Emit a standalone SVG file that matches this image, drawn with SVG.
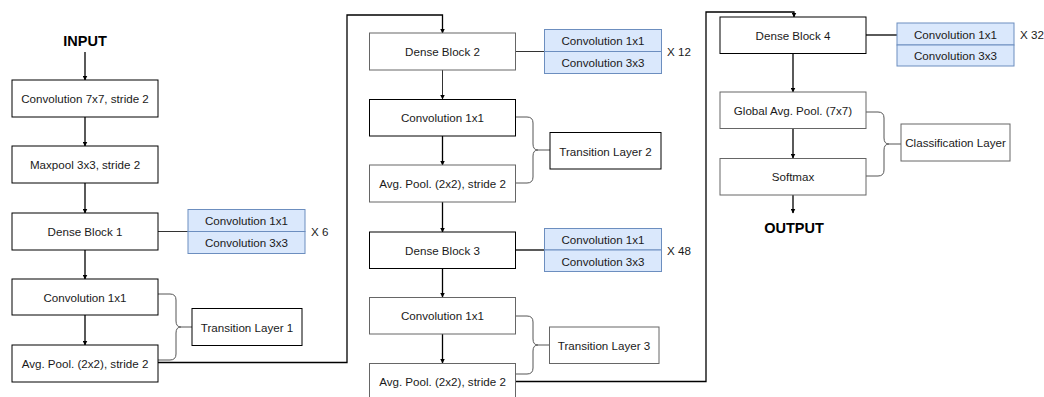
<svg xmlns="http://www.w3.org/2000/svg" width="1044" height="397" viewBox="0 0 1044 397">
<style>
  .box { fill: #ffffff; stroke: #000000; stroke-width: 1; }
  .gbox { fill: #ffffff; stroke: #666666; stroke-width: 1; }
  .blue { fill: #dae8fc; stroke: #6c8ebf; stroke-width: 1; }
  .t { font-family: "Liberation Sans", Arial, sans-serif; font-size: 11.6px; fill: #1a1a1a; text-anchor: middle; dominant-baseline: central; }
  .tl { font-family: "Liberation Sans", Arial, sans-serif; font-size: 11.6px; fill: #1a1a1a; dominant-baseline: central; }
  .big { font-family: "Liberation Sans", Arial, sans-serif; font-size: 14.5px; font-weight: bold; fill: #000; text-anchor: middle; }
  .c { fill: none; stroke: #000000; stroke-width: 1.3; }
  .cl { fill: none; stroke: #333333; stroke-width: 1; }
  .br { fill: none; stroke: #555555; stroke-width: 1; }
</style>
<defs>
  <marker id="arr" viewBox="0 0 10 10" refX="9" refY="5" markerWidth="5" markerHeight="5" orient="auto" markerUnits="userSpaceOnUse">
    <path d="M0,0 L10,5 L0,10 Z" fill="#000"/>
  </marker>
</defs>

<g id="connectors">
  <path class="c" d="M85,52 V80" marker-end="url(#arr)"/>
  <path class="c" d="M85,117 V146" marker-end="url(#arr)"/>
  <path class="c" d="M85,183 V213" marker-end="url(#arr)"/>
  <path class="c" d="M85,250 V279" marker-end="url(#arr)"/>
  <path class="c" d="M85,315 V345" marker-end="url(#arr)"/>
  <path class="cl" d="M158,231.5 H188"/>
  <path class="c" d="M158,362.5 H347 V15 H442.5 V33" marker-end="url(#arr)"/>
  <path class="cl" d="M442.5,70 V99" marker-end="url(#arr)"/>
  <path class="c" d="M442.5,136 V165" marker-end="url(#arr)"/>
  <path class="c" d="M442.5,202 V232" marker-end="url(#arr)"/>
  <path class="c" d="M442.5,268 V297" marker-end="url(#arr)"/>
  <path class="c" d="M442.5,334 V363" marker-end="url(#arr)"/>
  <path class="cl" d="M515,51.5 H544"/>
  <path class="c" d="M515,250 H544"/>
  <path class="c" d="M515,381.5 H706 V12 H794 V17" marker-end="url(#arr)"/>
  <path class="c" d="M866,35 H897"/>
  <path class="c" d="M793,53 V92" marker-end="url(#arr)"/>
  <path class="c" d="M793,128 V158" marker-end="url(#arr)"/>
  <path class="c" d="M793,195 V213" marker-end="url(#arr)"/>
  <path class="br" d="M158,294 H170 Q176,294 176,300 V321 Q176,327 181,327 Q176,327 176,333 V354 Q176,360 170,360 H158 M181,327 H192"/>
  <path class="br" d="M515,117 H527 Q533,117 533,123 V144 Q533,150 538,150 Q533,150 533,156 V177 Q533,183 527,183 H515 M538,150 H550"/>
  <path class="br" d="M515,316 H527 Q533,316 533,322 V339 Q533,345 538,345 Q533,345 533,351 V368 Q533,374 527,374 H515 M538,345 H549"/>
  <path class="br" d="M866,112 H878 Q884,112 884,118 V138 Q884,144 889,144 Q884,144 884,150 V170 Q884,176 878,176 H866 M889,144 H901"/>
</g>

<text class="big" x="85" y="46">INPUT</text>
<text class="big" x="794" y="233">OUTPUT</text>

<g id="conv7">
  <rect class="box" x="12" y="80" width="146" height="37"/>
  <text class="t" x="85" y="98.5">Convolution 7x7, stride 2</text>
</g>
<g id="maxpool">
  <rect class="box" x="12" y="146" width="146" height="37"/>
  <text class="t" x="85" y="164.5">Maxpool 3x3, stride 2</text>
</g>
<g id="dense1">
  <rect class="box" x="12" y="213" width="146" height="37"/>
  <text class="t" x="85" y="231.5">Dense Block 1</text>
</g>
<g id="dense1-detail">
  <rect class="blue" x="188" y="209.5" width="117" height="22"/>
  <rect class="blue" x="188" y="231.5" width="117" height="22"/>
  <text class="t" x="246.5" y="220.5">Convolution 1x1</text>
  <text class="t" x="246.5" y="242.5">Convolution 3x3</text>
  <text class="tl" x="311" y="231.5">X 6</text>
</g>
<g id="conv1a">
  <rect class="box" x="12" y="279" width="146" height="36"/>
  <text class="t" x="85" y="297">Convolution 1x1</text>
</g>
<g id="pool1">
  <rect class="box" x="12" y="345" width="146" height="37"/>
  <text class="t" x="85" y="363.5">Avg. Pool. (2x2), stride 2</text>
</g>
<g id="trans1">
  <rect class="box" x="192" y="308.5" width="110" height="37"/>
  <text class="t" x="247" y="327">Transition Layer 1</text>
</g>

<g id="dense2">
  <rect class="gbox" x="369.5" y="33" width="146" height="37"/>
  <text class="t" x="442.5" y="51.5">Dense Block 2</text>
</g>
<g id="dense2-detail">
  <rect class="blue" x="544.5" y="29.5" width="117" height="22"/>
  <rect class="blue" x="544.5" y="51.5" width="117" height="22"/>
  <text class="t" x="603" y="40.5">Convolution 1x1</text>
  <text class="t" x="603" y="62.5">Convolution 3x3</text>
  <text class="tl" x="667" y="51.5">X 12</text>
</g>
<g id="conv1b">
  <rect class="box" x="369.5" y="99.5" width="146" height="36.5"/>
  <text class="t" x="442.5" y="117.5">Convolution 1x1</text>
</g>
<g id="pool2">
  <rect class="gbox" x="369.5" y="165" width="146" height="37"/>
  <text class="t" x="442.5" y="183.5">Avg. Pool. (2x2), stride 2</text>
</g>
<g id="trans2">
  <rect class="box" x="550" y="132.5" width="111" height="36.5"/>
  <text class="t" x="605.5" y="151">Transition Layer 2</text>
</g>
<g id="dense3">
  <rect class="box" x="369.5" y="232" width="146" height="36.5"/>
  <text class="t" x="442.5" y="250">Dense Block 3</text>
</g>
<g id="dense3-detail">
  <rect class="blue" x="544.5" y="228.5" width="117" height="21.5"/>
  <rect class="blue" x="544.5" y="250" width="117" height="21.5"/>
  <text class="t" x="603" y="239.5">Convolution 1x1</text>
  <text class="t" x="603" y="261">Convolution 3x3</text>
  <text class="tl" x="667" y="250">X 48</text>
</g>
<g id="conv1c">
  <rect class="gbox" x="369.5" y="297.5" width="146" height="36.5"/>
  <text class="t" x="442.5" y="315.5">Convolution 1x1</text>
</g>
<g id="pool3">
  <rect class="gbox" x="369.5" y="363.5" width="146" height="40"/>
  <text class="t" x="442.5" y="381.5">Avg. Pool. (2x2), stride 2</text>
</g>
<g id="trans3">
  <rect class="gbox" x="549.5" y="327" width="109.5" height="36.5"/>
  <text class="t" x="604" y="345">Transition Layer 3</text>
</g>

<g id="dense4">
  <rect class="box" x="720" y="17" width="146" height="36.5"/>
  <text class="t" x="793" y="35">Dense Block 4</text>
</g>
<g id="dense4-detail">
  <rect class="blue" x="897" y="23" width="117" height="22"/>
  <rect class="blue" x="897" y="45" width="117" height="21"/>
  <text class="t" x="955.5" y="34">Convolution 1x1</text>
  <text class="t" x="955.5" y="55.5">Convolution 3x3</text>
  <text class="tl" x="1020" y="34">X 32</text>
</g>
<g id="gap">
  <rect class="gbox" x="720" y="92" width="146" height="36.5"/>
  <text class="t" x="793" y="110">Global Avg. Pool. (7x7)</text>
</g>
<g id="softmax">
  <rect class="gbox" x="720" y="158.5" width="146" height="36.5"/>
  <text class="t" x="793" y="176.5">Softmax</text>
</g>
<g id="cls">
  <rect class="gbox" x="901" y="124" width="109" height="37"/>
  <text class="t" x="955.5" y="142.5">Classification Layer</text>
</g>
</svg>
